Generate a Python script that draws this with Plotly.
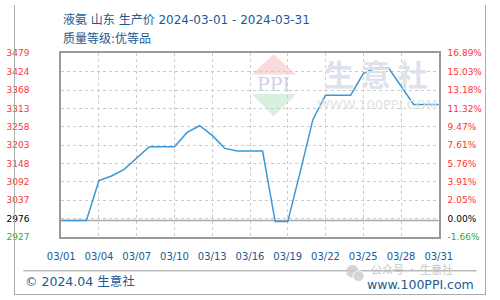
import plotly.graph_objects as go
import numpy as np

# ---------------- data ----------------
dates = [f"2024-03-{d:02d}" for d in range(1, 32)]
prices = [2976, 2976, 2976, 3096, 3110, 3130, 3164, 3198, 3198, 3198,
          3241, 3261, 3232, 3193, 3185, 3185, 3185, 2973, 2973, 3124,
          3280, 3353, 3353, 3353, 3418, 3435, 3435, 3380, 3325, 3325, 3325]
base_price = 2976
left_labels = ["2927", "2976", "3037", "3092", "3148", "3203",
               "3258", "3313", "3368", "3424", "3479"]
right_labels = ["-1.66%", "0.00%", "2.05%", "3.91%", "5.76%", "7.61%",
                "9.47%", "11.32%", "13.18%", "15.03%", "16.89%"]
x_tick_dates = dates[::3]

title_line1 = "液氨 山东 生产价 2024-03-01 - 2024-03-31"
title_line2 = "质量等级:优等品"

# ---------------- styling ----------------
RED = "#ff3333"
GREEN = "#33aa33"
BLACK = "#000000"
BLUE_TXT = "#1b5a92"
LINE = "#3a98d6"
GRID = "#cccccc"
FRAME = "#999999"
FONT = "DejaVu Sans, Noto Sans CJK SC"

ymin = base_price * (1 + float(right_labels[0].rstrip('%')) / 100)
ymax = base_price * (1 + float(right_labels[-1].rstrip('%')) / 100)
tickvals = list(np.linspace(ymin, ymax, len(left_labels)))


def colored(lbl, i):
    if i == 0:
        c = GREEN
    elif i == 1:
        c = BLACK
    else:
        c = RED
    return f"<span style='color:{c}'>{lbl}</span>"


left_text = [colored(l, i) for i, l in enumerate(left_labels)]
right_text = [colored(l, i) for i, l in enumerate(right_labels)]

W, H = 500, 300
px = lambda x: x / W
py = lambda y: 1 - y / H

fig = go.Figure()
fig.add_trace(go.Scatter(x=dates, y=prices, mode="lines",
                         line=dict(color=LINE, width=1.5),
                         showlegend=False, hoverinfo="x+y"))
fig.add_trace(go.Scatter(x=dates, y=prices, mode="lines", yaxis="y2",
                         line=dict(width=0), opacity=0,
                         showlegend=False, hoverinfo="skip"))

fig.update_layout(
    width=W, height=H,
    margin=dict(l=0, r=0, t=0, b=0),
    paper_bgcolor="white", plot_bgcolor="white",
    font=dict(family=FONT),
    xaxis=dict(
        type="date", domain=[px(50), px(450)],
        range=[dates[0], dates[-1]],
        tickvals=x_tick_dates, tickformat="%m/%d",
        tickfont=dict(size=10, color=BLUE_TXT, family=FONT),
        ticks="outside", ticklen=9, tickcolor="rgba(0,0,0,0)",
        showgrid=True, gridcolor=GRID, griddash="3px,3px", gridwidth=1,
        showline=True, linecolor=FRAME, linewidth=2, mirror=True,
        zeroline=False, fixedrange=True,
    ),
    yaxis=dict(
        domain=[py(240), py(50)], range=[ymin, ymax],
        tickvals=tickvals, ticktext=left_text,
        tickfont=dict(size=9, color=RED, family=FONT),
        ticks="outside", ticklen=28, tickcolor="rgba(0,0,0,0)",
        showgrid=True, gridcolor=GRID, griddash="3px,3px", gridwidth=1,
        showline=True, linecolor=FRAME, linewidth=2, mirror=True,
        zeroline=False, fixedrange=True,
    ),
    yaxis2=dict(
        overlaying="y", side="right", anchor="x", range=[ymin, ymax],
        tickvals=tickvals, ticktext=right_text,
        tickfont=dict(size=9, color=RED, family=FONT),
        ticks="outside", ticklen=6, tickcolor="rgba(0,0,0,0)",
        showgrid=False, showline=False, zeroline=False, fixedrange=True,
    ),
)

shapes = []
# baseline at base price
shapes.append(dict(type="line", xref="paper", yref="y", x0=px(50), x1=px(450),
                   y0=base_price, y1=base_price,
                   line=dict(color="#aaaaaa", width=1.5), layer="below"))
# watermark logo triangles
shapes.append(dict(type="path", xref="paper", yref="paper",
                   path=f"M {px(252)} {py(72)} L {px(275)} {py(51)} L {px(299)} {py(72)} Z",
                   fillcolor="rgba(242,175,175,0.45)", line=dict(width=0), layer="below"))
shapes.append(dict(type="path", xref="paper", yref="paper",
                   path=f"M {px(252)} {py(92)} L {px(299)} {py(92)} L {px(275)} {py(115)} Z",
                   fillcolor="rgba(170,222,185,0.45)", line=dict(width=0), layer="below"))
# footer separator
shapes.append(dict(type="line", xref="paper", yref="paper", x0=px(10), x1=px(490),
                   y0=py(275), y1=py(275), line=dict(color="#999999", width=1)))
# outer border (left, right, bottom)
shapes.append(dict(type="line", xref="paper", yref="paper", x0=px(0.5), x1=px(0.5),
                   y0=0, y1=1, line=dict(color="#aaaaaa", width=1)))
shapes.append(dict(type="line", xref="paper", yref="paper", x0=px(499.5), x1=px(499.5),
                   y0=0, y1=1, line=dict(color="#aaaaaa", width=1)))
shapes.append(dict(type="line", xref="paper", yref="paper", x0=0, x1=1,
                   y0=py(299.5), y1=py(299.5), line=dict(color="#aaaaaa", width=1)))
# wechat icon (light)
shapes.append(dict(type="circle", xref="paper", yref="paper",
                   x0=px(352), x1=px(365), y0=py(282), y1=py(269),
                   fillcolor="rgba(200,200,200,0.8)", line=dict(width=0)))
shapes.append(dict(type="circle", xref="paper", yref="paper",
                   x0=px(359), x1=px(371), y0=py(286), y1=py(275),
                   fillcolor="rgba(210,210,210,0.9)", line=dict(color="white", width=1)))
fig.update_layout(shapes=shapes)

ann = []
ann.append(dict(text=title_line1, x=px(50), y=py(15), xref="paper", yref="paper",
                xanchor="left", yanchor="middle", showarrow=False,
                font=dict(size=12, color=BLUE_TXT, family=FONT)))
ann.append(dict(text=title_line2, x=px(50), y=py(35), xref="paper", yref="paper",
                xanchor="left", yanchor="middle", showarrow=False,
                font=dict(size=12, color=BLUE_TXT, family=FONT)))
# watermark
ann.append(dict(text="PPI", x=px(275), y=py(82), xref="paper", yref="paper",
                xanchor="center", yanchor="middle", showarrow=False,
                font=dict(size=19, color="#ccd3e3", family="DejaVu Serif")))
ann.append(dict(text="<b>生 意 社</b>", x=px(383), y=py(70), xref="paper", yref="paper",
                xanchor="center", yanchor="middle", showarrow=False,
                font=dict(size=30, color="#dde2ec", family="Noto Sans CJK SC")))
ann.append(dict(text="WWW.100PPI.COM", x=px(385), y=py(103), xref="paper", yref="paper",
                xanchor="center", yanchor="middle", showarrow=False,
                font=dict(size=13, color="#e2e2e2", family="DejaVu Sans")))
# footer
ann.append(dict(text="© 2024.04 生意社", x=px(10), y=py(286), xref="paper", yref="paper",
                xanchor="left", yanchor="middle", showarrow=False,
                font=dict(size=12.5, color=BLUE_TXT, family=FONT)))
ann.append(dict(text="公众号 · 生意社", x=px(376), y=py(273.5), xref="paper", yref="paper",
                xanchor="left", yanchor="middle", showarrow=False,
                font=dict(size=11, color="rgba(190,190,190,0.9)", family="Noto Sans CJK SC")))
ann.append(dict(text="www.100PPI.com", x=px(489), y=py(289), xref="paper", yref="paper",
                xanchor="right", yanchor="middle", showarrow=False,
                font=dict(size=12.5, color=BLUE_TXT, family=FONT)))
fig.update_layout(annotations=ann)

fig.write_html("out.html")
